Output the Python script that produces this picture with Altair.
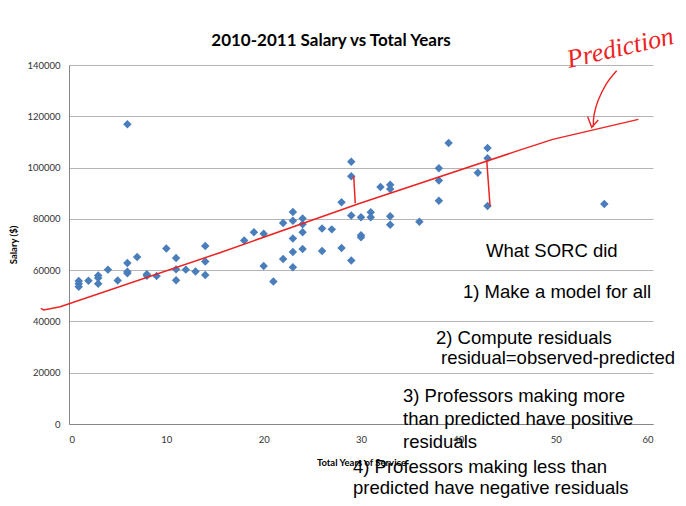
import altair as alt
import pandas as pd

# ---- data ----
years = [1, 1, 1, 2, 3, 3, 3, 4, 5, 6, 6, 6, 6, 7, 8, 8, 9, 10, 11, 11, 11, 12, 13,
         14, 14, 14, 18, 19, 20, 20, 21, 22, 22, 23, 23, 23, 23, 23, 24, 24, 24, 24,
         26, 26, 27, 28, 28, 29, 29, 29, 29, 30, 30, 30, 31, 31, 32, 33, 33, 33, 33,
         36, 38, 38, 38, 39, 42, 43, 43, 43, 55]
salaries = [55800, 54700, 53500, 55900, 57900, 56900, 54700, 60200, 56000, 116900,
            62800, 59400, 58800, 65100, 58400, 57800, 57700, 68400, 64700, 60300,
            56100, 60200, 59500, 69400, 63400, 58100, 71600, 74800, 74200, 61600,
            55600, 78400, 64300, 82700, 79300, 72300, 67100, 61100, 80100, 77900,
            74800, 68200, 76200, 67500, 75900, 86500, 68600, 102300, 96600, 81300,
            63800, 80600, 73600, 72800, 82600, 80600, 92400, 93300, 91600, 81000,
            77700, 78900, 99700, 95000, 87100, 109600, 98000, 107600, 103600, 85000,
            85800]

# hand-drawn prediction line
line_years = [-2.9, -2.6, -0.9, 15.5, 29.9, 46.3, 49.7, 58.5]
line_salaries = [45100, 44500, 45700, 66800, 86100, 106800, 111000, 118800]

# hand-drawn residual strokes
resid_year_start = [29.25, 42.92]
resid_sal_start = [96700, 102680]
resid_year_end = [29.41, 43.26]
resid_sal_end = [86070, 85010]

# hand-drawn arrow pointing at the line
arrow_years = [56.27, 55.24, 54.38, 53.94, 53.87]
arrow_salaries = [137780, 132860, 126350, 120500, 115940]
head_years = [53.29, 53.70, 54.38]
head_salaries = [119840, 115700, 118550]

title_text = "2010-2011 Salary vs Total Years"
x_title = "Total Years of Service"
y_title = "Salary ($)"
x_ticks = [0, 10, 20, 30, 40, 50, 60]
y_ticks = [0, 20000, 40000, 60000, 80000, 100000, 120000, 140000]

note_lines = [
    "What SORC did",
    "1) Make a model for all",
    "2) Compute residuals",
    "residual=observed-predicted",
    "3) Professors making more",
    "than predicted have positive",
    "residuals",
    "4) Professors making less than",
    "predicted have negative residuals",
]
note_x = [417, 394, 367, 372, 334, 334, 334, 284, 284]
note_y = [192, 233, 279, 299, 337, 360, 383, 408, 429]

RED = "#ec2323"
BLUE = "#4A7EBB"
W, H = 584, 359

pts = pd.DataFrame({"year": years, "salary": salaries})
line_df = pd.DataFrame({"year": line_years, "salary": line_salaries,
                        "i": list(range(len(line_years)))})
res_df = pd.DataFrame({"year": resid_year_start, "salary": resid_sal_start,
                       "year2": resid_year_end, "salary2": resid_sal_end})
arrow_df = pd.DataFrame({"year": arrow_years, "salary": arrow_salaries,
                         "i": list(range(len(arrow_years)))})
head_df = pd.DataFrame({"year": head_years, "salary": head_salaries,
                        "i": list(range(len(head_years)))})
one_row = alt.Data(values=[{"k": 0}])

xscale = alt.Scale(domain=[0, 60], nice=False, zero=False)
yscale = alt.Scale(domain=[0, 140000], nice=False)

X = alt.X("year:Q", scale=xscale, title=x_title,
          axis=alt.Axis(values=x_ticks, grid=False, ticks=False, labelPadding=10,
                        domainColor="#868686", labelFont="Lato", labelFontSize=9.5,
                        labelColor="#333333", titleFont="Lato", titleFontSize=9.5,
                        titleFontWeight="bold", titleColor="#000000",
                        titleX=292, titleY=41, titleBaseline="alphabetic"))
Y = alt.Y("salary:Q", scale=yscale, title=y_title,
          axis=alt.Axis(values=y_ticks, format="d", grid=True, gridColor="#b4b4b4",
                        gridWidth=1, ticks=False, labelPadding=9,
                        domainColor="#868686", labelFont="Lato", labelFontSize=9.5,
                        labelColor="#333333", titleFont="Lato", titleFontSize=9.5,
                        titleFontWeight="bold", titleColor="#000000",
                        titleX=-51, titleY=179.5))

points = alt.Chart(pts).mark_point(shape="diamond", filled=True, size=72,
                                   color=BLUE, opacity=1).encode(x=X, y=Y)

pred = alt.Chart(line_df).mark_line(color=RED, strokeWidth=1.5).encode(
    x=X, y=Y, order="i:Q")

resid = alt.Chart(res_df).mark_rule(color=RED, strokeWidth=1.5).encode(
    x=X, y=Y, x2="year2:Q", y2="salary2:Q")

arrow = alt.Chart(arrow_df).mark_line(color=RED, strokeWidth=1.4,
                                      interpolate="cardinal").encode(
    x=X, y=Y, order="i:Q")
head = alt.Chart(head_df).mark_line(color=RED, strokeWidth=1.4).encode(
    x=X, y=Y, order="i:Q")

layers = [points, pred, resid, arrow, head]

title = alt.Chart(one_row).mark_text(text=title_text, font="Lato", fontWeight="bold",
                                     fontSize=17, color="#000000", align="center",
                                     baseline="alphabetic").encode(
    x=alt.value(262), y=alt.value(-19))
layers.append(title)

prediction = alt.Chart(one_row).mark_text(text="Prediction", font="Liberation Serif",
                                          fontStyle="italic", fontSize=26, color=RED,
                                          align="left", baseline="alphabetic",
                                          angle=347).encode(
    x=alt.value(500), y=alt.value(3))
layers.append(prediction)

for txt, nx, ny in zip(note_lines, note_x, note_y):
    layers.append(
        alt.Chart(one_row).mark_text(text=txt, font="Liberation Sans", fontSize=18.5,
                                     color="#000000", align="left",
                                     baseline="alphabetic").encode(
            x=alt.value(nx), y=alt.value(ny)))

chart = alt.layer(*layers).properties(
    width=W, height=H,
    autosize=alt.AutoSizeParams(type="none"),
    padding={"left": 61, "top": 57, "right": 25, "bottom": 74},
).configure_view(strokeWidth=0)

chart.save("out.html", embed_options={"renderer": "svg", "actions": False})
